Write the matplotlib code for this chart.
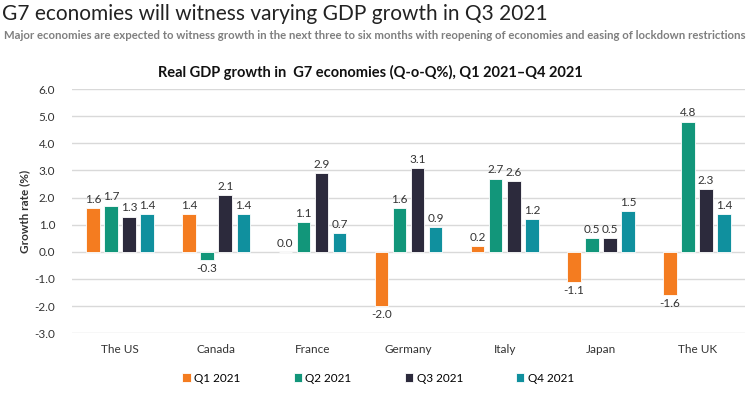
import numpy as np
import matplotlib.pyplot as plt

plt.rcParams['font.family'] = ['Lato', 'DejaVu Sans']

# Data
countries = ["The US", "Canada", "France", "Germany", "Italy", "Japan", "The UK"]
quarters = ["Q1 2021", "Q2 2021", "Q3 2021", "Q4 2021"]
q1 = [1.6, 1.4, 0.0, -2.0, 0.2, -1.1, -1.6]
q2 = [1.7, -0.3, 1.1, 1.6, 2.7, 0.5, 4.8]
q3 = [1.3, 2.1, 2.9, 3.1, 2.6, 0.5, 2.3]
q4 = [1.4, 1.4, 0.7, 0.9, 1.2, 1.5, 1.4]
colors = ["#F47C20", "#12967A", "#2C2A3C", "#10909E"]

fig = plt.figure(figsize=(7.49, 3.98), dpi=100)
ax = fig.add_axes([0.096, 0.163, 0.899, 0.613])

x = np.arange(len(countries))
step = 0.1875
width = 0.14
for i, (vals, lab, c) in enumerate(zip([q1, q2, q3, q4], quarters, colors)):
    pos = x + (i - 1.5) * step
    ax.bar(pos, vals, width, color=c, edgecolor="white", linewidth=0.6,
           label=lab, zorder=3)
    for px, v in zip(pos, vals):
        off = 0.12 if v >= 0 else -0.12
        ax.text(px, v + off, f"{v:.1f}", ha="center",
                va="bottom" if v >= 0 else "top", fontsize=8.5, color="#333333")

ax.set_ylim(-3, 6)
ax.set_xlim(-0.5, 6.5)
ax.set_yticks(np.arange(-3, 7, 1))
ax.set_yticklabels([f"{t:.1f}" for t in np.arange(-3, 7, 1)])
ax.set_xticks(x)
ax.set_xticklabels(countries)
ax.tick_params(length=0, labelsize=8.5, colors="#333333")
ax.tick_params(axis="x", pad=8)
ax.tick_params(axis="y", pad=12)
ax.grid(axis="y", color="#D9D9D9", linewidth=1, zorder=0)
for s in ax.spines.values():
    s.set_visible(False)
ax.set_ylabel("Growth rate (%)", fontsize=8.5, fontweight="bold", color="#333333",
              labelpad=3)

fig.text(0.003, 0.965, "G7 economies will witness varying GDP growth in Q3 2021",
         fontsize=15, color="#222222", va="center")
fig.text(0.005, 0.912, "Major economies are expected to witness growth in the next three to six months "
         "with reopening of economies and easing of lockdown restrictions",
         fontsize=8.2, fontweight="bold", color="#7F7F7F", va="center")
fig.text(0.495, 0.818, "Real GDP growth in  G7 economies (Q-o-Q%), Q1 2021\u2013Q4 2021",
         fontsize=10.5, fontweight="bold", color="#111111", ha="center", va="center")

fig.legend(loc="center", bbox_to_anchor=(0.505, 0.05), ncol=4, frameon=False,
           fontsize=8.5, handlelength=0.7, handleheight=0.7, columnspacing=4.5,
           handletextpad=0.3)

fig.savefig("out.png", dpi=100)
